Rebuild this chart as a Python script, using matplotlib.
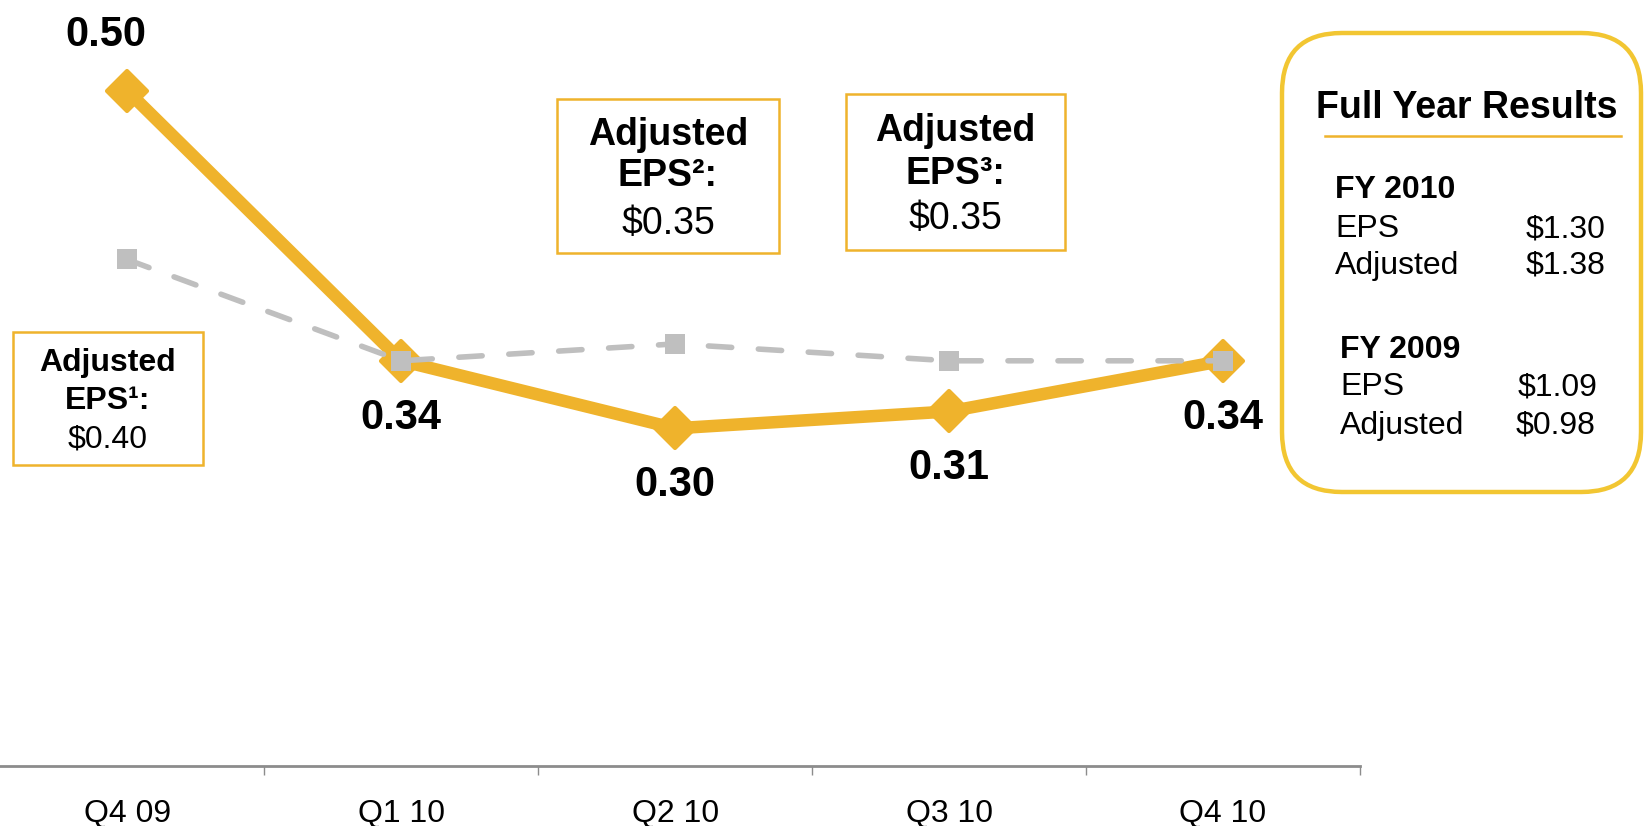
import matplotlib
matplotlib.use("Agg")
import matplotlib.pyplot as plt
from matplotlib.markers import MarkerStyle
from matplotlib.patches import Rectangle, FancyBboxPatch

plt.rcParams['font.family'] = ['Liberation Sans', 'DejaVu Sans']

# data
quarters = ['Q4 09', 'Q1 10', 'Q2 10', 'Q3 10', 'Q4 10']
eps = [0.50, 0.34, 0.30, 0.31, 0.34]
adj_eps = [0.40, 0.34, 0.35, 0.34, 0.34]
adj_notes = ['1', '2', '3']
adj_values = ['$0.40', '$0.35', '$0.35']
fy_years = ['FY 2010', 'FY 2009']
fy_eps = ['$1.30', '$1.09']
fy_adj = ['$1.38', '$0.98']

gold = '#EFB32C'
gray = '#BFBFBF'

fig = plt.figure(figsize=(16.45, 8.26), dpi=100)
ax = fig.add_axes([0, 1 - 766 / 826, 1360 / 1645, 766 / 826])

x = range(len(quarters))
ax.plot(x, eps, color=gold, lw=9, solid_joinstyle='round',
        marker=MarkerStyle('D', joinstyle='round'), ms=20,
        mec=gold, mew=3, zorder=3)
ax.plot(x, adj_eps, color=gray, lw=4, ls=(0, (4.2, 4.8)),
        dash_capstyle='round', marker='s', ms=14, mec=gray, mew=0, zorder=4)

for i, v in enumerate(eps):
    off = (-15, 40) if i == 0 else (0, -41)
    ax.annotate(f'{v:.2f}', (i, v), xytext=off, textcoords='offset points',
                ha='center', va='center', fontsize=30, fontweight='bold')

ax.set_xlim(-0.464, 4.5)
ax.set_ylim(0.10, 0.5537)
ax.set_yticks([])
for s in ['top', 'right', 'left']:
    ax.spines[s].set_visible(False)
ax.spines['bottom'].set_color('#8C8C8C')
ax.spines['bottom'].set_linewidth(2)
ax.set_xticks(list(x))
ax.set_xticklabels(quarters, fontsize=23)
ax.tick_params(axis='x', which='major', length=0, pad=24)
ax.set_xticks([i + 0.5 for i in x], minor=True)
ax.tick_params(axis='x', which='minor', length=6.5, width=1, color='#8C8C8C')

# overlay in pixel coords for the text boxes
ov = fig.add_axes([0, 0, 1, 1])
ov.set_xlim(0, 1645)
ov.set_ylim(826, 0)
ov.axis('off')

dy = 3
boxes = [(13, 332, 190, 133, 108, [360, 398, 437], 23),
         (557, 99, 222, 154, 668, [132, 173, 221], 27),
         (846, 94, 219, 156, 955, [128, 171, 216], 27)]
for (bx, by, bw, bh, cx, ys, fs), note, val in zip(boxes, adj_notes, adj_values):
    ov.add_patch(Rectangle((bx, by), bw, bh, fill=False, ec=gold, lw=1.8))
    sup = {'1': '\u00b9', '2': '\u00b2', '3': '\u00b3'}[note]
    ov.text(cx, ys[0] + dy, 'Adjusted', ha='center', va='center', fontsize=fs, fontweight='bold')
    ov.text(cx, ys[1] + dy, 'EPS' + sup + ':', ha='center', va='center', fontsize=fs, fontweight='bold')
    ov.text(cx, ys[2] + dy, val, ha='center', va='center', fontsize=fs)

# full year panel
ov.add_patch(FancyBboxPatch((1282 + 60, 33 + 60), 359 - 120, 459 - 120,
                            boxstyle='round,pad=60', fill=False,
                            ec='#F2C632', lw=3.2))
ov.text(1467, 105 + dy, 'Full Year Results', ha='center', va='center',
        fontsize=27, fontweight='bold')
ov.plot([1325, 1621], [136, 136], color=gold, lw=1.8)

dy = 4
rows = [(1335, 1605, [186, 225, 262]), (1340, 1598, [346, 383, 422])]
for (lx, rx, ys), yr, e, a in zip(rows, fy_years, fy_eps, fy_adj):
    ov.text(lx, ys[0] + dy, yr, ha='left', va='center', fontsize=23, fontweight='bold')
    ov.text(lx, ys[1] + dy, 'EPS', ha='left', va='center', fontsize=23)
    ov.text(rx, ys[1] + dy, e, ha='right', va='center', fontsize=23)
    ov.text(lx, ys[2] + dy, 'Adjusted', ha='left', va='center', fontsize=23)
    ov.text(rx - (3 if yr == 'FY 2009' else 0), ys[2] + dy, a, ha='right', va='center', fontsize=23)

fig.savefig('out.png', dpi=100)
